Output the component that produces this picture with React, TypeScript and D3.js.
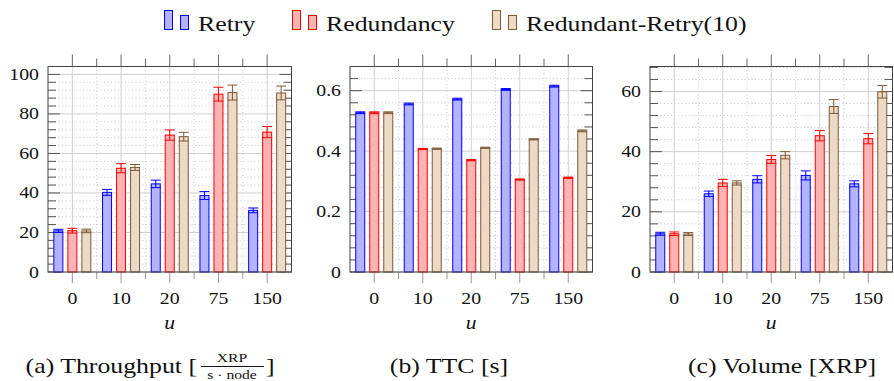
import * as d3 from "d3";

// categories (u) and series
const categories = ["0", "10", "20", "75", "150"];
const seriesNames = ["Retry", "Redundancy", "Redundant-Retry(10)"];

// (a) throughput
const throughputRetry = [20.8, 40.3, 44.6, 38.7, 31.2];
const throughputRetryErr = [0.8, 1.5, 1.9, 2.0, 1.2];
const throughputRedundancy = [20.9, 52.5, 69.3, 90.0, 70.8];
const throughputRedundancyErr = [1.2, 2.3, 2.6, 3.5, 2.8];
const throughputRR = [20.8, 52.9, 68.5, 90.8, 90.6];
const throughputRRErr = [0.9, 1.5, 2.2, 3.8, 3.5];

// (b) TTC
const ttcRetry = [0.527, 0.556, 0.572, 0.604, 0.615];
const ttcRetryErr = [0.003, 0.003, 0.003, 0.003, 0.003];
const ttcRedundancy = [0.527, 0.407, 0.37, 0.306, 0.312];
const ttcRedundancyErr = [0.003, 0.002, 0.002, 0.002, 0.002];
const ttcRR = [0.527, 0.408, 0.411, 0.439, 0.467];
const ttcRRErr = [0.003, 0.002, 0.002, 0.002, 0.003];

// (c) volume
const volumeRetry = [12.7, 26.0, 30.8, 32.1, 29.3];
const volumeRetryErr = [0.5, 0.9, 1.2, 1.5, 1.0];
const volumeRedundancy = [12.7, 29.6, 37.4, 45.3, 44.3];
const volumeRedundancyErr = [0.6, 1.2, 1.3, 1.7, 1.7];
const volumeRR = [12.6, 29.6, 38.8, 55.0, 59.9];
const volumeRRErr = [0.5, 0.7, 1.2, 2.3, 2.1];

const fills = ["#b3b3ff", "#ffb3b3", "#ecd9c6"];
const strokes = ["#0000ff", "#ff0000", "#7d5a36"];

const FONT = "'Liberation Serif', serif";
const STRETCH = 1.2;
const TOP = 66.5;
const BOTTOM = 272;

// serif text, stretched a bit wider like Computer Modern
const T = ({
  x,
  y,
  size,
  anchor = "start",
  italic = false,
  children,
}: {
  x: number;
  y: number;
  size: number;
  anchor?: "start" | "middle" | "end";
  italic?: boolean;
  children: React.ReactNode;
}) => (
  <text
    transform={`translate(${x},${y}) scale(${STRETCH},1)`}
    textAnchor={anchor}
    fontSize={size}
    fontFamily={FONT}
    fontStyle={italic ? "italic" : "normal"}
    fill="#111"
  >
    {children}
  </text>
);

type PanelProps = {
  left: number;
  right: number;
  yMax: number;
  major: number;
  minor: number;
  fmt: (v: number) => string;
  values: number[][];
  errors: number[][];
};

const Panel = ({ left, right, yMax, major, minor, fmt, values, errors }: PanelProps) => {
  const x = d3.scalePoint<string>().domain(categories).range([left, right]).padding(0.5);
  const off = d3.scalePoint<string>().domain(seriesNames).range([-14, 14]);
  const y = d3.scaleLinear().domain([0, yMax]).range([BOTTOM, TOP]);
  const step = x.step();
  const barW = 9;

  const majorTicks = d3.range(0, yMax + 1e-9, major);
  const minorTicks = d3.range(0, yMax + 1e-9, minor).filter(
    (v) => Math.abs(v / major - Math.round(v / major)) > 1e-6,
  );
  const mids = categories.slice(0, -1).map((c) => (x(c) ?? 0) + step / 2);

  return (
    <g>
      {/* grid */}
      {minorTicks.map((t) => (
        <line key={"mg" + t} x1={left} x2={right} y1={y(t)} y2={y(t)} stroke="#bbb" strokeWidth={0.8} strokeDasharray="1,2.5" />
      ))}
      {mids.map((m) => (
        <line key={"vm" + m} x1={m} x2={m} y1={TOP} y2={BOTTOM} stroke="#bbb" strokeWidth={0.8} strokeDasharray="1,2.5" />
      ))}
      {majorTicks.map((t) => (
        <line key={"g" + t} x1={left} x2={right} y1={y(t)} y2={y(t)} stroke="#d0d0d0" strokeWidth={1} />
      ))}
      {categories.map((c) => (
        <line key={"vg" + c} x1={x(c)} x2={x(c)} y1={TOP} y2={BOTTOM} stroke="#d0d0d0" strokeWidth={1} />
      ))}

      {/* ticks */}
      {majorTicks.map((t) => (
        <g key={"t" + t}>
          <line x1={left} x2={left + 12} y1={y(t)} y2={y(t)} stroke="#555" />
          <line x1={right - 12} x2={right} y1={y(t)} y2={y(t)} stroke="#555" />
          <T x={left - 9} y={y(t) + 5.5} size={16.5} anchor="end">
            {fmt(t)}
          </T>
        </g>
      ))}
      {minorTicks.map((t) => (
        <g key={"mt" + t}>
          <line x1={left} x2={left + 8} y1={y(t)} y2={y(t)} stroke="#555" />
          <line x1={right - 8} x2={right} y1={y(t)} y2={y(t)} stroke="#555" />
        </g>
      ))}
      {categories.map((c) => (
        <g key={"xt" + c}>
          <line x1={x(c)} x2={x(c)} y1={TOP - 12} y2={TOP} stroke="#666" />
          <line x1={x(c)} x2={x(c)} y1={BOTTOM} y2={BOTTOM + 11} stroke="#999" />
          <T x={x(c) ?? 0} y={304} size={16.5} anchor="middle">
            {c}
          </T>
        </g>
      ))}
      {mids.map((m) => (
        <g key={"xm" + m}>
          <line x1={m} x2={m} y1={TOP - 8} y2={TOP} stroke="#666" />
          <line x1={m} x2={m} y1={BOTTOM} y2={BOTTOM + 7} stroke="#999" />
        </g>
      ))}
      <T x={(left + right) / 2} y={329} size={18} anchor="middle" italic>
        u
      </T>

      {/* bars */}
      {seriesNames.map((s, si) =>
        categories.map((c, ci) => {
          const cx = (x(c) ?? 0) + (off(s) ?? 0);
          const v = values[si][ci];
          const e = errors[si][ci];
          return (
            <g key={s + c}>
              <rect x={cx - barW / 2} y={y(v)} width={barW} height={BOTTOM - y(v)} fill={fills[si]} stroke={strokes[si]} strokeWidth={1} />
              <line x1={cx} x2={cx} y1={y(v + e)} y2={y(v - e)} stroke={strokes[si]} strokeWidth={1} />
              <line x1={cx - 5} x2={cx + 5} y1={y(v + e)} y2={y(v + e)} stroke={strokes[si]} strokeWidth={1} />
              <line x1={cx - 5} x2={cx + 5} y1={y(v - e)} y2={y(v - e)} stroke={strokes[si]} strokeWidth={1} />
            </g>
          );
        }),
      )}

      <rect x={left} y={TOP} width={right - left} height={BOTTOM - TOP} fill="none" stroke="#444" strokeWidth={1} />
    </g>
  );
};

const legendX = [164, 292, 492];

export default function App() {
  return (
    <svg width={894} height={381} style={{ position: "absolute", left: 0, top: 0, background: "#fff" }}>
      {/* legend */}
      {seriesNames.map((s, i) => (
        <g key={s}>
          <rect x={legendX[i] + 0.5} y={10.5} width={8} height={19} fill={fills[i]} stroke={strokes[i]} />
          <rect x={legendX[i] + 16.5} y={15.5} width={8} height={14} fill={fills[i]} stroke={strokes[i]} />
          <T x={legendX[i] + 34} y={31} size={21.5}>
            {s}
          </T>
        </g>
      ))}

      <Panel
        left={48}
        right={291.5}
        yMax={104}
        major={20}
        minor={4}
        fmt={(v) => d3.format("d")(v)}
        values={[throughputRetry, throughputRedundancy, throughputRR]}
        errors={[throughputRetryErr, throughputRedundancyErr, throughputRRErr]}
      />
      <Panel
        left={350}
        right={592.5}
        yMax={0.68}
        major={0.2}
        minor={0.04}
        fmt={(v) => (v === 0 ? "0" : d3.format(".1f")(v))}
        values={[ttcRetry, ttcRedundancy, ttcRR]}
        errors={[ttcRetryErr, ttcRedundancyErr, ttcRRErr]}
      />
      <Panel
        left={650}
        right={892.5}
        yMax={68.3}
        major={20}
        minor={4}
        fmt={(v) => d3.format("d")(v)}
        values={[volumeRetry, volumeRedundancy, volumeRR]}
        errors={[volumeRetryErr, volumeRedundancyErr, volumeRRErr]}
      />

      {/* captions */}
      <T x={197} y={373} size={21.5} anchor="end">
        (a) Throughput [
      </T>
      <T x={232} y={362} size={13} anchor="middle">
        XRP
      </T>
      <line x1={201} x2={264} y1={366.5} y2={366.5} stroke="#111" strokeWidth={1} />
      <T x={232} y={379} size={13} anchor="middle">
        s · node
      </T>
      <T x={266} y={373} size={21.5}>
        ]
      </T>
      <T x={449} y={373} size={21.5} anchor="middle">
        (b) TTC [s]
      </T>
      <T x={782} y={373} size={21.5} anchor="middle">
        (c) Volume [XRP]
      </T>
    </svg>
  );
}
